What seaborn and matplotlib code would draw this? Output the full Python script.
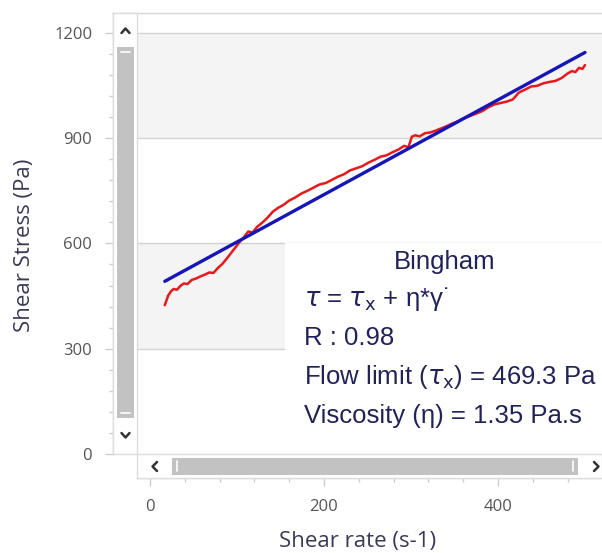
import matplotlib
matplotlib.use("Agg")
import matplotlib.pyplot as plt
from matplotlib.patches import Rectangle
from matplotlib.lines import Line2D
from matplotlib.ticker import FixedLocator
import pandas as pd
import seaborn as sns

# measured curve (shear rate in s-1, shear stress in Pa)
shear_rate = [17, 19, 21, 24, 27, 31, 35, 39, 43, 48,
              53, 58, 63, 68, 73, 78, 83, 88, 93, 98,
              103, 108, 113, 118, 123, 129, 135, 141, 147, 153,
              160, 167, 174, 181, 188, 195, 202, 209, 216, 223,
              230, 237, 244, 251, 258, 265, 272, 279, 286, 292,
              297, 301, 305, 310, 316, 322, 328, 334, 340, 347,
              354, 361, 368, 375, 382, 389, 396, 403, 410, 417,
              424, 431, 438, 445, 452, 459, 466, 473, 480, 485,
              489, 493, 497, 500]
shear_stress = [424, 438, 452, 463, 470, 468, 479, 486, 484, 496,
                500, 506, 511, 517, 516, 530, 541, 556, 572, 588,
                604, 618, 634, 631, 647, 659, 673, 690, 701, 709,
                722, 731, 742, 750, 759, 768, 772, 781, 790, 797,
                808, 814, 820, 830, 838, 847, 851, 860, 868, 878,
                874, 904, 908, 905, 914, 916, 921, 927, 933, 941,
                948, 957, 963, 970, 977, 988, 996, 1000, 1004, 1010,
                1030, 1038, 1047, 1049, 1056, 1060, 1063, 1071, 1084, 1091,
                1088, 1100, 1097, 1108]

# Bingham fit line end points
fit_rate = [17, 500]
fit_stress = [492, 1144]

y_ticks = [0, 300, 600, 900, 1200]
x_ticks = [0, 200, 400]
y_minor = list(range(0, 1201, 60))
x_minor = list(range(0, 521, 40))

info_title = "Bingham"
info_lines = [r"$\tau$ = $\tau_{\mathrm{x}}$ + η*γ˙",
              "R : 0.98",
              r"Flow limit ($\tau_{\mathrm{x}}$) = 469.3 Pa",
              "Viscosity (η) = 1.35 Pa.s"]

df_meas = pd.DataFrame({"rate": shear_rate, "stress": shear_stress})
df_fit = pd.DataFrame({"rate": fit_rate, "stress": fit_stress})

sns.set_theme(style="white")
plt.rcParams["font.family"] = ["Open Sans", "DejaVu Sans"]
plt.rcParams["mathtext.fontset"] = "dejavusans"

W, H = 602, 553
fig = plt.figure(figsize=(W / 100, H / 100), dpi=100)


def fx(x):
    return x / W


def fy(y):
    return 1 - y / H


# axes box in pixels
ax_l, ax_r, ax_t, ax_b = 113, 602, 13, 478
ax = fig.add_axes([fx(ax_l), fy(ax_b), fx(ax_r - ax_l), (ax_b - ax_t) / H])

# pixel scale: x 0 -> 150px, 0.87 px/unit ; y 0 -> 454px, 0.351 px/unit
x_lo, x_hi = (ax_l - 150) / 0.87, (ax_r - 150) / 0.87
y_lo, y_hi = (454 - ax_b) / 0.351, (454 - ax_t) / 0.351
ax.set_xlim(x_lo, x_hi)
ax.set_ylim(y_lo, y_hi)

plot_x0 = (137 - ax_l) / (ax_r - ax_l)  # plot area starts right of the scrollbar

# alternating bands + grid
ax.axhspan(900, 1200, xmin=plot_x0, xmax=1, color="#f4f4f4", lw=0, zorder=0)
ax.axhspan(300, 600, xmin=plot_x0, xmax=1, color="#f4f4f4", lw=0, zorder=0)
for yv in y_ticks[1:]:
    ax.axhline(yv, xmin=plot_x0, xmax=1, color="#d2d2d2", lw=1, zorder=1)

sns.lineplot(data=df_meas, x="rate", y="stress", color="#e8181c", lw=1.8,
             ax=ax, zorder=3)
sns.lineplot(data=df_fit, x="rate", y="stress", color="#1515b8", lw=2.4,
             ax=ax, zorder=4)

ax.set_xticks(x_ticks)
ax.set_yticks(y_ticks)
ax.xaxis.set_minor_locator(FixedLocator(x_minor))
ax.yaxis.set_minor_locator(FixedLocator(y_minor))
ax.tick_params(axis="both", which="both", direction="out", color="#cccccc",
               labelcolor="#555555", labelsize=12, bottom=True, left=True)
ax.tick_params(axis="both", which="major", length=6, width=1)
ax.tick_params(axis="both", which="minor", length=3, width=1)
ax.tick_params(axis="x", pad=9)
ax.tick_params(axis="y", pad=9)
for s in ["left", "bottom", "top"]:
    ax.spines[s].set_color("#d6d6d6")
    ax.spines[s].set_linewidth(1)
ax.spines["right"].set_visible(False)
ax.spines["left"].set_bounds(0, y_hi)
ax.spines["bottom"].set_bounds((137 - 150) / 0.87, x_hi)

ax.set_xlabel("Shear rate (s-1)", fontsize=16, color="#3a3a55", labelpad=12)
ax.set_ylabel("Shear Stress (Pa)", fontsize=16, color="#3a3a55", labelpad=14)

# info box
fig.patches.append(Rectangle((fx(285), fy(454)), fx(602 - 285), (454 - 243) / H,
                             transform=fig.transFigure, facecolor="white",
                             edgecolor="none", zorder=5))
txt_col = "#22225a"
fig.text(fx(445), fy(262), info_title, ha="center", va="center",
         fontsize=18.5, color=txt_col, family=["Liberation Sans", "DejaVu Sans"], zorder=6)
for i, line in enumerate(info_lines):
    fig.text(fx(304), fy(299 + 39 * i), line, ha="left", va="center",
             fontsize=18.5, color=txt_col, family=["Liberation Sans", "DejaVu Sans"],
             zorder=6)

# vertical scrollbar
fig.patches.append(Rectangle((fx(113), fy(454)), fx(24), (454 - 13) / H,
                             transform=fig.transFigure, facecolor="white",
                             edgecolor="#dddddd", lw=1, zorder=5))
fig.patches.append(Rectangle((fx(117), fy(418)), fx(17), (418 - 47) / H,
                             transform=fig.transFigure, facecolor="#c2c2c2",
                             edgecolor="none", zorder=6))
for yy in (52, 413):
    fig.lines.append(Line2D([fx(121), fx(130)], [fy(yy), fy(yy)],
                            transform=fig.transFigure, color="white", lw=1.2, zorder=7))
fig.lines.append(Line2D([fx(121.5), fx(125.5), fx(129.5)], [fy(33), fy(28.5), fy(33)],
                        transform=fig.transFigure, color="#333333", lw=1.8, zorder=7))
fig.lines.append(Line2D([fx(121.5), fx(125.5), fx(129.5)], [fy(433), fy(437.5), fy(433)],
                        transform=fig.transFigure, color="#333333", lw=1.8, zorder=7))

# horizontal scrollbar
fig.patches.append(Rectangle((fx(137), fy(478)), fx(602 - 137), (478 - 454) / H,
                             transform=fig.transFigure, facecolor="white",
                             edgecolor="#dddddd", lw=1, zorder=5))
fig.patches.append(Rectangle((fx(172), fy(475)), fx(578 - 172), (475 - 458) / H,
                             transform=fig.transFigure, facecolor="#c2c2c2",
                             edgecolor="none", zorder=6))
for xx in (177, 573):
    fig.lines.append(Line2D([fx(xx), fx(xx)], [fy(461), fy(471)],
                            transform=fig.transFigure, color="white", lw=1.2, zorder=7))
fig.lines.append(Line2D([fx(157), fx(152.5), fx(157)], [fy(462), fy(466.5), fy(471)],
                        transform=fig.transFigure, color="#333333", lw=1.8, zorder=7))
fig.lines.append(Line2D([fx(594), fx(598.5), fx(594)], [fy(462), fy(466.5), fy(471)],
                        transform=fig.transFigure, color="#333333", lw=1.8, zorder=7))

fig.savefig("out.png", dpi=100)
